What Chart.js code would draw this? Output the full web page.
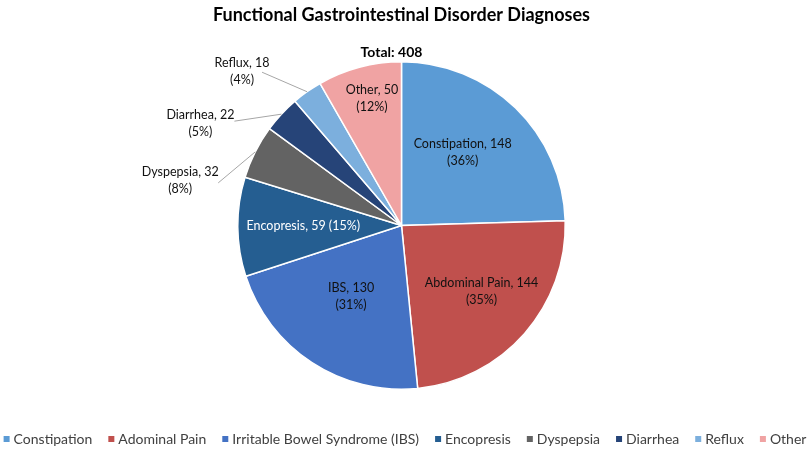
<!DOCTYPE html>
<html>
<head>
<meta charset="utf-8">
<script src="https://cdn.jsdelivr.net/npm/chart.js@4.4.0/dist/chart.umd.min.js"></script>
<style>
  html, body { margin: 0; padding: 0; background: #fff; }
  #wrap { width: 810px; height: 449px; }
</style>
</head>
<body>
<div id="wrap"><canvas id="pie"></canvas></div>
<script>
// Data
const legendLabels = ['Constipation', 'Adominal Pain', 'Irritable Bowel Syndrome (IBS)', 'Encopresis', 'Dyspepsia', 'Diarrhea', 'Reflux', 'Other'];
const sliceNames = ['Constipation', 'Abdominal Pain', 'IBS', 'Encopresis', 'Dyspepsia', 'Diarrhea', 'Reflux', 'Other'];
const counts = [148, 144, 130, 59, 32, 22, 18, 50];
const percents = [36, 35, 31, 15, 8, 5, 4, 12];
const totalLabel = 'Total: 408';
const titleText = 'Functional Gastrointestinal Disorder Diagnoses';

const colors = ['#5B9BD5', '#C0504D', '#4472C4', '#255E91', '#636363', '#264478', '#7CAFDD', '#F0A3A3'];

// where each slice label goes (inside: radius fraction + nudge, outside: offset from rim + leader line)
const labelSpots = [
    { r: 0.58, dx: -5, dy: -5 },
    { r: 0.635, dx: 2, dy: -3 },
    { r: 0.53, dx: -3, dy: -2 },
    { r: 0.6, dx: 0, dy: 0, oneLine: true, color: '#fff' },
    { out: [-75, 28.5], line: [-37, 31] },
    { out: [-81, 9.5], line: [-47, 7] },
    { out: [-65, -20], line: [-45, -19.5] },
    { r: 0.795, dx: 4, dy: -1 }
];

const FONT = 'Lato, "Open Sans", sans-serif';

const decorPlugin = {
    id: 'decor',
    afterDatasetsDraw(chart) {
        const ctx = chart.ctx;
        const meta = chart.getDatasetMeta(0);
        const first = meta.data[0];
        const cx = first.x, cy = first.y, R = first.outerRadius;

        ctx.save();
        // title
        ctx.fillStyle = '#000';
        ctx.textAlign = 'center';
        ctx.textBaseline = 'middle';
        ctx.font = 'bold 18px ' + FONT;
        ctx.fillText(titleText, cx, 15);

        ctx.font = 'bold 14px ' + FONT;
        ctx.fillText(totalLabel, cx - 10, cy - R - 9);

        // slice labels
        ctx.font = '12.5px ' + FONT;
        meta.data.forEach((arc, i) => {
            const spot = labelSpots[i];
            const mid = (arc.startAngle + arc.endAngle) / 2;
            const line1 = sliceNames[i] + ', ' + counts[i];
            const line2 = '(' + percents[i] + '%)';
            let x, y;
            if (spot.out) {
                const ex = cx + Math.cos(mid) * R;
                const ey = cy + Math.sin(mid) * R;
                ctx.strokeStyle = '#a6a6a6';
                ctx.lineWidth = 1;
                ctx.beginPath();
                ctx.moveTo(ex + spot.line[0], ey + spot.line[1]);
                ctx.lineTo(ex, ey);
                ctx.stroke();
                x = ex + spot.out[0];
                y = ey + spot.out[1];
            } else {
                x = cx + Math.cos(mid) * R * spot.r + spot.dx;
                y = cy + Math.sin(mid) * R * spot.r + spot.dy;
            }
            ctx.fillStyle = spot.color || '#111';
            if (spot.oneLine) {
                ctx.fillText(line1 + ' ' + line2, x, y);
            } else {
                ctx.fillText(line1, x, y - 8.5);
                ctx.fillText(line2, x, y + 8.5);
            }
        });

        // legend row
        ctx.font = '14px ' + FONT;
        const box = 6, boxGap = 4, itemGap = 16;
        const widths = legendLabels.map(t => box + boxGap + ctx.measureText(t).width);
        const rowW = widths.reduce((a, b) => a + b, 0) + itemGap * (widths.length - 1);
        let lx = (chart.width - rowW) / 2;
        const ly = 439;
        ctx.textAlign = 'left';
        legendLabels.forEach((t, i) => {
            ctx.fillStyle = colors[i];
            ctx.fillRect(lx, ly - box / 2, box, box);
            ctx.fillStyle = '#404040';
            ctx.fillText(t, lx + box + boxGap, ly + 0.5);
            lx += widths[i] + itemGap;
        });
        ctx.restore();
    }
};

new Chart(document.getElementById('pie'), {
    type: 'pie',
    data: {
        labels: legendLabels,
        datasets: [{
            data: counts,
            backgroundColor: colors,
            borderColor: '#ffffff',
            borderWidth: 1.5
        }]
    },
    options: {
        responsive: true,
        maintainAspectRatio: false,
        animation: false,
        layout: { padding: { top: 61, bottom: 59, left: 0, right: 7 } },
        plugins: {
            legend: { display: false },
            title: { display: false },
            tooltip: { enabled: false }
        }
    },
    plugins: [decorPlugin]
});
</script>
</body>
</html>
